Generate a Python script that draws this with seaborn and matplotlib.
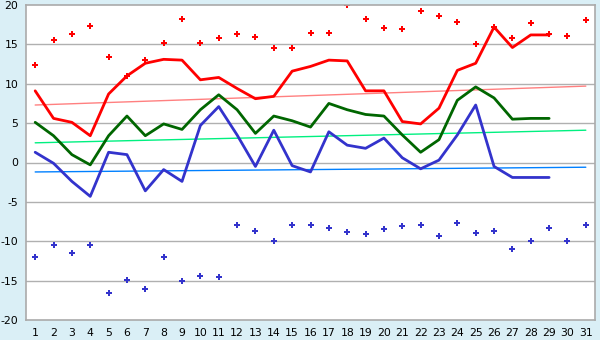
import numpy as np
import pandas as pd
import matplotlib
matplotlib.use('Agg')
import matplotlib.pyplot as plt
import seaborn as sns

# --- data ---
days = list(range(1, 32))
days_obs = list(range(1, 30))

max_line = [9.1, 5.6, 5.1, 3.4, 8.7, 11.0, 12.6, 13.1, 13.0, 10.5,
            10.8, 9.4, 8.1, 8.4, 11.6, 12.2, 13.0, 12.9, 9.1, 9.1,
            5.2, 4.9, 6.9, 11.7, 12.6, 17.2, 14.6, 16.2, 16.2]
mean_line = [5.1, 3.4, 1.0, -0.3, 3.4, 5.9, 3.4, 4.9, 4.2, 6.7,
             8.6, 6.7, 3.7, 5.9, 5.3, 4.5, 7.5, 6.7, 6.1, 5.9,
             3.5, 1.3, 2.9, 7.9, 9.6, 8.2, 5.5, 5.6, 5.6]
min_line = [1.3, -0.1, -2.4, -4.3, 1.3, 1.0, -3.6, -0.9, -2.4, 4.7,
            7.1, 3.5, -0.5, 4.1, -0.4, -1.2, 3.9, 2.2, 1.8, 3.1,
            0.6, -0.8, 0.3, 3.5, 7.3, -0.5, -1.9, -1.9, -1.9]

record_max = [12.4, 15.6, 16.3, 17.3, 13.4, 11.0, 13.0, 15.2, 18.2, 15.2,
              15.8, 16.3, 15.9, 14.5, 14.5, 16.4, 16.4, 20.0, 18.2, 17.1,
              16.9, 19.3, 18.6, 17.8, 15.0, 17.2, 15.8, 17.7, 16.3, 16.1, 18.1]
record_min = [-12.0, -10.5, -11.5, -10.5, -16.6, -14.9, -16.0, -12.0, -15.1, -14.4,
              -14.5, -7.9, -8.7, -10.0, -7.9, -7.9, -8.3, -8.8, -9.1, -8.5,
              -8.1, -7.9, -9.3, -7.7, -9.0, -8.7, -11.0, -10.0, -8.3, -10.0, -7.9]

trend_days = [1, 31]
trend_max = [7.3, 9.7]
trend_mean = [2.5, 4.1]
trend_min = [-1.2, -0.6]

BG = '#daeff6'

sns.set_style('white')
plt.rcParams['font.family'] = ['DejaVu Sans']
plt.rcParams['axes.unicode_minus'] = False

fig = plt.figure(figsize=(6, 3.4), dpi=100, facecolor=BG)
ax = fig.add_axes([26 / 600, 1 - 320 / 340, 569 / 600, 315 / 340])
ax.set_facecolor('white')

for y in range(-15, 20, 5):
    ax.axhline(y, color='#b0b0b0', lw=1, zorder=0)

# trend lines
sns.lineplot(x=trend_days, y=trend_max, color='#ff8080', lw=1, ax=ax)
sns.lineplot(x=trend_days, y=trend_mean, color='#00f080', lw=1, ax=ax)
sns.lineplot(x=trend_days, y=trend_min, color='#0080ff', lw=1, ax=ax)

# daily lines
sns.lineplot(x=days_obs, y=max_line, color='#ff0000', lw=2, ax=ax)
sns.lineplot(x=days_obs, y=mean_line, color='#006600', lw=2, ax=ax)
sns.lineplot(x=days_obs, y=min_line, color='#3333cc', lw=2, ax=ax)

# records
sns.scatterplot(x=days, y=record_max, color='#ff0000', marker='P', s=24,
                linewidth=0, ax=ax)
sns.scatterplot(x=days, y=record_min, color='#3333cc', marker='P', s=24,
                linewidth=0, ax=ax)

ax.set_xlim(0.5, 31.5)
ax.set_ylim(-20, 20)
ax.set_xticks(days)
ax.set_yticks(range(-20, 21, 5))
ax.tick_params(axis='both', labelsize=7.8, colors='#000000', length=4,
               width=1, color='#999999', pad=1.5)
for s in ax.spines.values():
    s.set_color('#aaaaaa')
    s.set_linewidth(1.2)
ax.set_xlabel('')
ax.set_ylabel('')

fig.savefig('out.png', dpi=100, facecolor=BG)
